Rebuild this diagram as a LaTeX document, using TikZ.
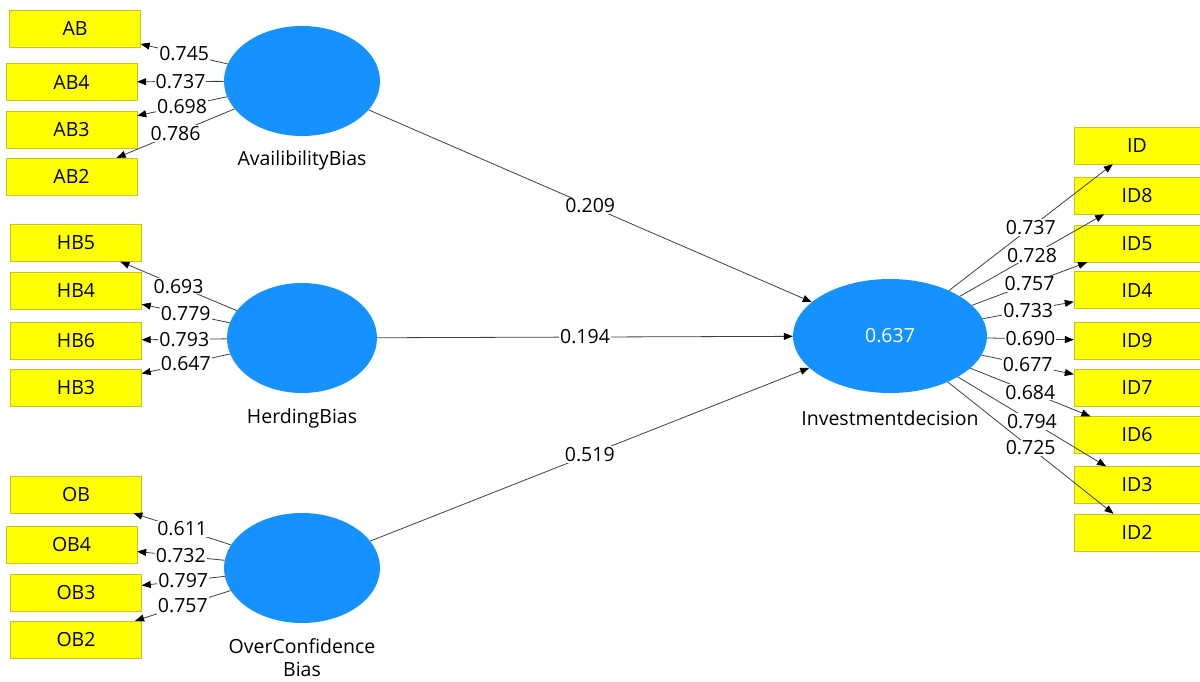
\documentclass[tikz,border=0pt]{standalone}
\usepackage{fontspec}
\setmainfont{Open Sans}
\usetikzlibrary{shapes.geometric,arrows.meta}
\definecolor{plsblue}{RGB}{21,146,255}
\definecolor{plsyellow}{RGB}{255,255,0}
\definecolor{plsrim}{RGB}{196,196,40}
\begin{document}
\begin{tikzpicture}[x=1pt,y=-1pt,font=\fontsize{19.5}{22}\selectfont,
		ind/.style={draw=plsrim,fill=plsyellow,minimum width=131pt,minimum height=37pt,inner sep=0pt},
		indr/.style={ind,minimum width=126pt},
		lat/.style={ellipse,fill=plsblue,inner sep=0pt},
		ld/.style={draw=black!75,line width=.8pt,-{Triangle[length=9pt,width=7pt,color=black]}},
		wt/.style={fill=white,inner sep=1pt}]
		\useasboundingbox (0,0) rectangle (1200,681);
		
		% latent variables
		\node[lat,minimum width=156pt,minimum height=110pt] (av) at (302,81) {};
		\node (avl) at (302,160) {AvailibilityBias};
		\node[lat,minimum width=150pt,minimum height=110pt] (hb) at (302,338) {};
		\node (hbl) at (302,418) {HerdingBias};
		\node[lat,minimum width=156pt,minimum height=110pt] (oc) at (302,568) {};
		\node (ocl) at (302,646) {OverConfidence}; \node (ocl2) at (302,669) {Bias};
		\node[lat,minimum width=194pt,minimum height=114pt,text=white] (inv) at (890,336) {0.637};
		\node (invl) at (890,418) {Investmentdecision};
		
		% indicators
		\node[ind] (ab) at (75,29) {AB};
		\node[ind] (ab4) at (71.5,82) {AB4};
		\node[ind] (ab3) at (71.5,129.5) {AB3};
		\node[ind] (ab2) at (71.5,176.5) {AB2};
		\node[ind] (hb5) at (76,243) {HB5};
		\node[ind] (hb4) at (76,290.5) {HB4};
		\node[ind] (hb6) at (76,340.5) {HB6};
		\node[ind] (hb3) at (76,388) {HB3};
		\node[ind] (ob) at (76,494.5) {OB};
		\node[ind] (ob4) at (71.5,545) {OB4};
		\node[ind] (ob3) at (76,592.5) {OB3};
		\node[ind] (ob2) at (76,639.5) {OB2};
		\node[indr] (id) at (1137,145.5) {ID};
		\node[indr] (id8) at (1137,195.5) {ID8};
		\node[indr] (id5) at (1137,243.5) {ID5};
		\node[indr] (id4) at (1137,290) {ID4};
		\node[indr] (id9) at (1137,341) {ID9};
		\node[indr] (id7) at (1137,387.5) {ID7};
		\node[indr] (id6) at (1137,435) {ID6};
		\node[indr] (id3) at (1137,485) {ID3};
		\node[indr] (id2) at (1137,532.5) {ID2};
		
		% outer loadings
		\draw[ld] (av) -- node[wt] {0.745} (ab);
		\draw[ld] (av) -- node[wt] {0.737} (ab4);
		\draw[ld] (av) -- node[wt] {0.698} (ab3);
		\draw[ld] (av) -- node[wt] {0.786} (ab2);
		\draw[ld] (hb) -- node[wt] {0.693} (hb5);
		\draw[ld] (hb) -- node[wt] {0.779} (hb4);
		\draw[ld] (hb) -- node[wt] {0.793} (hb6);
		\draw[ld] (hb) -- node[wt] {0.647} (hb3);
		\draw[ld] (oc) -- node[wt] {0.611} (ob);
		\draw[ld] (oc) -- node[wt] {0.732} (ob4);
		\draw[ld] (oc) -- node[wt] {0.797} (ob3);
		\draw[ld] (oc) -- node[wt] {0.757} (ob2);
		\draw[ld] (inv) -- node[wt] {0.737} (id);
		\draw[ld] (inv) -- node[wt] {0.728} (id8);
		\draw[ld] (inv) -- node[wt] {0.757} (id5);
		\draw[ld] (inv) -- node[wt] {0.733} (id4);
		\draw[ld] (inv) -- node[wt] {0.690} (id9);
		\draw[ld] (inv) -- node[wt] {0.677} (id7);
		\draw[ld] (inv) -- node[wt] {0.684} (id6);
		\draw[ld] (inv) -- node[wt] {0.794} (id3);
		\draw[ld] (inv) -- node[wt] {0.725} (id2);
		
		% path coefficients
		\draw[ld] (av) -- node[wt] {0.209} (inv);
		\draw[ld] (hb) -- node[wt] {0.194} (inv);
		\draw[ld] (oc) -- node[wt] {0.519} (inv);
\end{tikzpicture}
\end{document}
